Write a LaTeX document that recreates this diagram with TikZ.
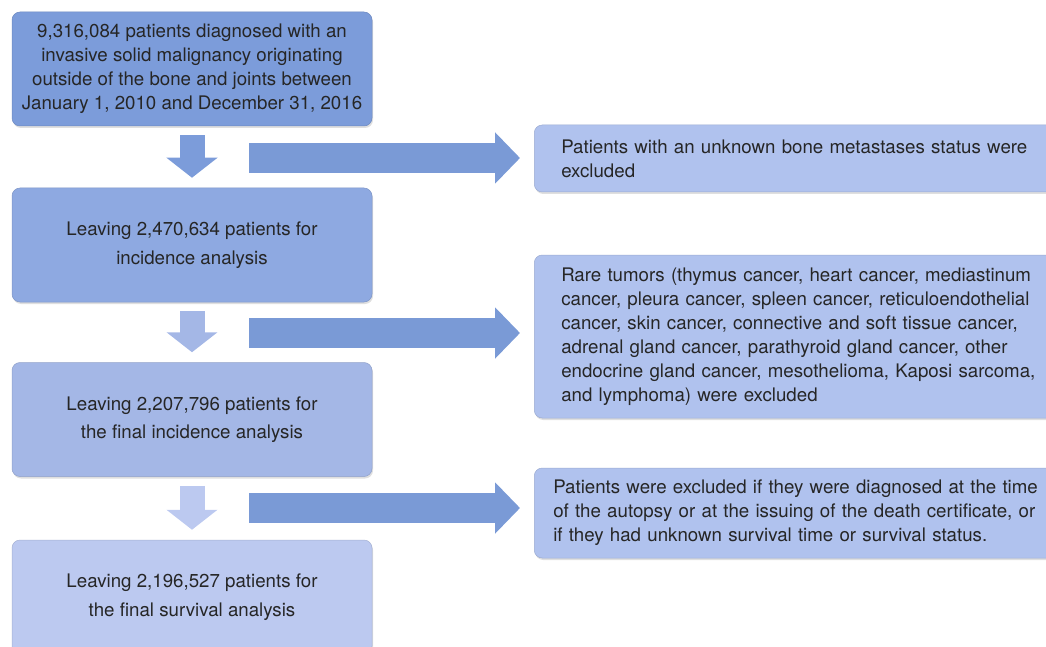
\documentclass[tikz,border=0pt]{standalone}
\usepackage{fontspec}
\setmainfont{TeX Gyre Heros}
\usepackage{xcolor}
\usetikzlibrary{arrows.meta,shadows}
\definecolor{boxa}{HTML}{7C9CDA}
\definecolor{boxb}{HTML}{8EA9E1}
\definecolor{boxc}{HTML}{A4B7E6}
\definecolor{boxd}{HTML}{BCC9F0}
\definecolor{boxr}{HTML}{B0C2EE}
\definecolor{arrx}{HTML}{7A9AD6}
\definecolor{txtx}{HTML}{262626}
\tikzset{
  shade/.style={drop shadow={opacity=0.25,shadow xshift=1pt,shadow yshift=-2pt}},
  lbox/.style={rounded corners=8pt,minimum width=360pt,minimum height=114pt,align=center,text=txtx,
    draw=#1!88!black,line width=0.5pt,fill=#1,shade,font=\fontsize{18.7}{28.5}\selectfont},
  rbox/.style={rounded corners=8pt,anchor=west,align=left,text=txtx,draw=boxr!88!black,line width=0.5pt,
    fill=boxr,shade,font=\fontsize{18.7}{24}\selectfont},
  dnarr/.style={draw=#1,line width=25pt,-{Triangle[length=20pt,width=50pt]},shorten <=9pt,shorten >=10pt},
  fatarr/.style={draw=arrx,line width=30pt,-{Triangle[length=25pt,width=50pt]},shorten >=14pt}
}
\begin{document}
\begin{tikzpicture}[x=1pt,y=-1pt]
\useasboundingbox (0,0) rectangle (1046,647);
\node[lbox=boxa,font=\fontsize{18.7}{24}\selectfont] (n1) at (192,69) {9,316,084 patients diagnosed with an\\invasive solid malignancy originating\\outside of the bone and joints between\\January 1, 2010 and December 31, 2016};
\node[lbox=boxb] (n2) at (192,245) {Leaving 2,470,634 patients for\\incidence analysis};
\node[lbox=boxc] (n3) at (192,419.5) {Leaving 2,207,796 patients for\\the final incidence analysis};
\node[lbox=boxd] (n4) at (192,597) {Leaving 2,196,527 patients for\\the final survival analysis};
\node[rbox,minimum height=67pt,inner xsep=27pt,text width=492pt] (r1) at (534,158.5) {Patients with an unknown bone metastases status were\\excluded};
\node[rbox,minimum height=163pt,inner xsep=27pt,text width=492pt] (r2) at (534,336.5) {Rare tumors (thymus cancer, heart cancer, mediastinum\\cancer, pleura cancer, spleen cancer, reticuloendothelial\\cancer, skin cancer, connective and soft tissue cancer,\\adrenal gland cancer, parathyroid gland cancer, other\\endocrine gland cancer, mesothelioma, Kaposi sarcoma,\\and lymphoma) were excluded};
\node[rbox,minimum height=90pt,inner xsep=19pt,text width=500pt] (r3) at (534,513) {Patients were excluded if they were diagnosed at the time\\of the autopsy or at the issuing of the death certificate, or\\if they had unknown survival time or survival status.};
\coordinate (a1) at (249,158);
\coordinate (a2) at (249,333);
\coordinate (a3) at (249,508);
\draw[dnarr=boxa] (n1) -- (n2);
\draw[dnarr=boxc] (n2) -- (n3);
\draw[dnarr=boxd] (n3) -- (n4);
\draw[fatarr] (a1) -- (r1.west |- a1);
\draw[fatarr] (a2) -- (r2.west |- a2);
\draw[fatarr] (a3) -- (r3.west |- a3);
\end{tikzpicture}
\end{document}
